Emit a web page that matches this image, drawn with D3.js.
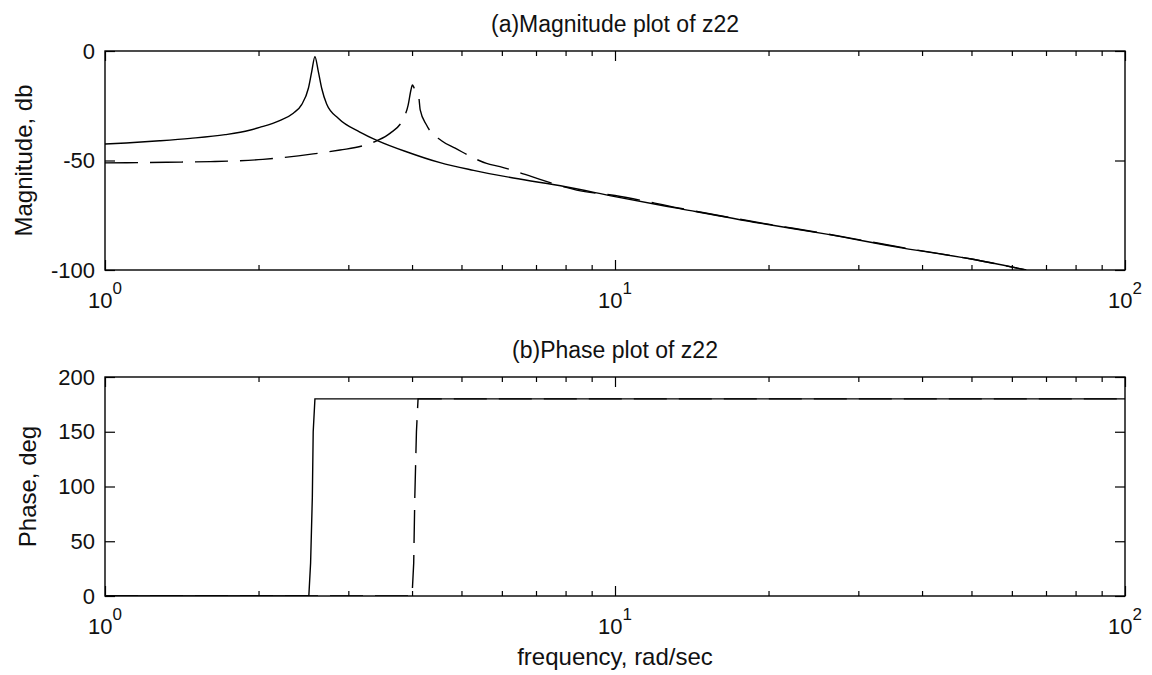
<!DOCTYPE html>
<html>
<head>
<meta charset="utf-8">
<script src="https://cdn.jsdelivr.net/npm/d3@7"></script>
<style>
  body { margin: 0; background: #fff; }
  text { font-family: "Liberation Sans", Arial, sans-serif; fill: #111; }
</style>
</head>
<body>
<div id="chart"></div>
<script>
// values
var solidMagFreq = [1, 1.1, 1.28, 1.47, 1.72, 1.92, 2.01, 2.2, 2.34, 2.43, 2.505, 2.543, 2.58, 2.62, 2.66, 2.72, 2.87, 3.16, 3.43, 3.9, 4.54, 5.28, 6.32, 8, 10, 13.4, 19.2, 26, 36.7, 50, 64];
var solidMag = [-42.5, -42, -41, -39.9, -38.2, -36.2, -34.9, -31.8, -28.4, -24.5, -17, -9.4, -2.6, -9.4, -17, -24.2, -30.8, -37, -41, -46, -51, -54.5, -58, -62, -66.5, -72, -78.6, -83.6, -90, -95, -100];

var dashedMagFreq = [1, 1.32, 1.61, 2.04, 2.56, 2.89, 3.19, 3.41, 3.62, 3.85, 3.93, 3.98, 4.006, 4.04, 4.12, 4.15, 4.27, 4.57, 4.86, 5.6, 5.95, 6.42, 6.87, 8.41, 10, 13.4, 19.2, 26, 36.7, 50, 64];
var dashedMag = [-51.1, -50.8, -50.5, -49.5, -47, -45.2, -43.4, -41, -37.6, -30.7, -24.7, -17.8, -15.5, -17, -20.5, -26.9, -33.8, -41, -44.4, -51.3, -52.8, -55.1, -57.4, -63.5, -66, -71.8, -78.4, -83.5, -89.8, -95, -100];

var solidPhaseFreq = [1, 2.51, 2.53, 2.55, 2.56, 2.58, 100];
var solidPhase = [0, 0, 30, 90, 150, 180, 180];
var dashedPhaseFreq = [1, 4.0, 4.03, 4.05, 4.08, 4.11, 100];
var dashedPhase = [0, 0, 30, 90, 150, 180, 180];

var magTicks = [-100, -50, 0];
var phaseTicks = [0, 50, 100, 150, 200];
var majorFreq = [1, 10, 100];
var majorExp = ["0", "1", "2"];
var minorFreq = [2, 3, 4, 5, 6, 7, 8, 9, 20, 30, 40, 50, 60, 70, 80, 90];

var W = 1152, H = 675;
var left = 105, right = 1125;

var svg = d3.select("#chart").append("svg")
    .attr("width", W)
    .attr("height", H);

var x = d3.scaleLog()
    .domain([1, 100])
    .range([left, right]);

function zip(f, v) {
    return f.map(function(d, i) { return {w: d, v: v[i]}; });
}

function draw_panel(id, top, bottom, yDomain, yTicks, title, ylabel, series) {
    var y = d3.scaleLinear().domain(yDomain).range([bottom, top]);

    svg.append("clipPath").attr("id", id)
      .append("rect")
        .attr("x", left).attr("y", top)
        .attr("width", right - left).attr("height", bottom - top);

    var g = svg.append("g");

    // curves
    series.forEach(function(s) {
        g.append("path")
            .datum(s.data)
            .attr("clip-path", "url(#" + id + ")")
            .attr("fill", "none")
            .attr("stroke", "#000")
            .attr("stroke-width", 1.4)
            .attr("stroke-dasharray", s.dash)
            .attr("d", d3.line()
                .curve(s.curve)
                .x(function(d) { return x(d.w); })
                .y(function(d) { return y(d.v); }));
    });

    // ticks pointing inward on every side
    var axes = [
        [d3.axisBottom(x).tickValues(minorFreq).tickSize(-5), "translate(0," + bottom + ")"],
        [d3.axisBottom(x).tickValues(majorFreq).tickSize(-10), "translate(0," + bottom + ")"],
        [d3.axisTop(x).tickValues(minorFreq).tickSize(-5), "translate(0," + top + ")"],
        [d3.axisTop(x).tickValues(majorFreq).tickSize(-10), "translate(0," + top + ")"],
        [d3.axisRight(y).tickValues(yTicks).tickSize(-10), "translate(" + right + ",0)"]
    ];
    axes.forEach(function(a) {
        var ax = g.append("g").attr("transform", a[1])
            .call(a[0].tickFormat("").tickSizeOuter(0));
        ax.select(".domain").remove();
        ax.selectAll("line").attr("stroke", "#000").attr("stroke-width", 1.2);
    });

    var yAxis = g.append("g")
        .attr("transform", "translate(" + left + ",0)")
        .call(d3.axisLeft(y).tickValues(yTicks).tickSize(-10).tickPadding(10).tickSizeOuter(0)
            .tickFormat(function(d) { return String(d); }));
    yAxis.select(".domain").remove();
    yAxis.selectAll("line").attr("stroke", "#000").attr("stroke-width", 1.2);
    yAxis.selectAll("text")
        .attr("font-family", "Liberation Sans, Arial, sans-serif")
        .attr("font-size", 22)
        .attr("fill", "#111");

    // frame
    g.append("rect")
        .attr("x", left).attr("y", top)
        .attr("width", right - left).attr("height", bottom - top)
        .attr("fill", "none")
        .attr("stroke", "#000")
        .attr("stroke-width", 1.4);

    // 10^n labels
    var lab = g.selectAll(".xlab").data(majorFreq).enter()
        .append("text")
        .attr("class", "xlab")
        .attr("x", function(d) { return x(d); })
        .attr("y", bottom + 38)
        .attr("text-anchor", "middle")
        .attr("font-size", 22);
    lab.append("tspan").text("10");
    lab.append("tspan")
        .attr("dy", -14)
        .attr("font-size", 17)
        .text(function(d, i) { return majorExp[i]; });

    g.append("text")
        .attr("x", (left + right) / 2)
        .attr("y", top - 19)
        .attr("text-anchor", "middle")
        .attr("font-size", 23)
        .text(title);

    g.append("text")
        .attr("transform", "translate(" + (ylabel.x) + "," + ((top + bottom) / 2) + ") rotate(-90)")
        .attr("text-anchor", "middle")
        .attr("font-size", 24)
        .text(ylabel.text);
}

draw_panel("clipA", 51, 270, [-100, 0], magTicks, "(a)Magnitude plot of z22",
    {text: "Magnitude, db", x: 32},
    [{data: zip(solidMagFreq, solidMag), dash: null, curve: d3.curveMonotoneX},
     {data: zip(dashedMagFreq, dashedMag), dash: "33,12", curve: d3.curveMonotoneX}]);

draw_panel("clipB", 377, 596, [0, 200], phaseTicks, "(b)Phase plot of z22",
    {text: "Phase, deg", x: 36},
    [{data: zip(solidPhaseFreq, solidPhase), dash: null, curve: d3.curveLinear},
     {data: zip(dashedPhaseFreq, dashedPhase), dash: "33,12", curve: d3.curveLinear}]);

svg.append("text")
    .attr("x", (left + right) / 2)
    .attr("y", 665)
    .attr("text-anchor", "middle")
    .attr("font-size", 24)
    .text("frequency, rad/sec");
</script>
</body>
</html>
